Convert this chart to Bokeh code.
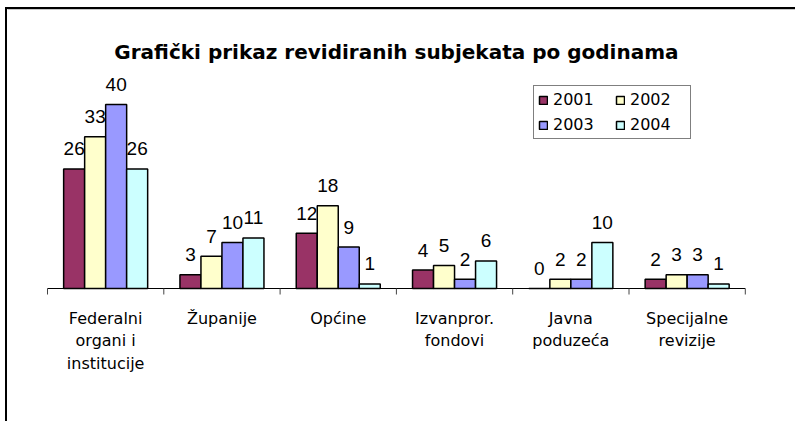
from bokeh.plotting import figure
from bokeh.models import Range1d, Legend, LegendItem, ColumnDataSource
from bokeh.core.properties import value
from bokeh.embed import file_html
from bokeh.resources import INLINE

# ---- data ----
categories = ["Federalni\norgani i\ninstitucije", "Županije", "Općine",
              "Izvanpror.\nfondovi", "Javna\npoduzeća", "Specijalne\nrevizije"]
years = ["2001", "2002", "2003", "2004"]
v2001 = [26, 3, 12, 4, 0, 2]
v2002 = [33, 7, 18, 5, 2, 3]
v2003 = [40, 10, 9, 2, 2, 3]
v2004 = [26, 11, 1, 6, 10, 1]
series = [v2001, v2002, v2003, v2004]
colors = ["#993366", "#FFFFCC", "#9999FF", "#CCFFFF"]
title_text = "Grafički prikaz revidiranih subjekata po godinama"

# ---- layout constants (pixels) ----
W, H = 795, 421
PX_CAT = 116.3     # pixels per category
PX_UNIT = 4.6      # pixels per value unit
x0 = -47 / PX_CAT
x1 = x0 + W / PX_CAT
y1 = 288 / PX_UNIT
y0 = y1 - H / PX_UNIT

p = figure(width=W, height=H, x_range=Range1d(x0, x1), y_range=Range1d(y0, y1),
           output_backend="svg", toolbar_location=None,
           x_axis_location=None, y_axis_location=None, min_border=0)
p.grid.visible = False
p.outline_line_color = None
p.background_fill_color = "white"
p.border_fill_color = "white"

n = len(categories)
centers = [i + 0.5 for i in range(n)]
bw = 0.1806
offsets = [-1.5 * bw, -0.5 * bw, 0.5 * bw, 1.5 * bw]

# chart frame (top and left edges)
fx = x0 + 5.5 / PX_CAT
fy = y1 - 7.5 / PX_UNIT
p.segment(x0=[fx - 1 / PX_CAT], y0=[fy], x1=[x1], y1=[fy], line_color="black", line_width=2)
p.segment(x0=[fx + 1.5 / PX_CAT], y0=[fy - 1.5 / PX_UNIT], x1=[x1], y1=[fy - 1.5 / PX_UNIT],
          line_color="#c8c8c8", line_width=1)
p.segment(x0=[fx], y0=[fy], x1=[fx], y1=[y0], line_color="black", line_width=2)

legend_items = []
for yr, vals, col, off in zip(years, series, colors, offsets):
    src = ColumnDataSource(dict(x=[c + off for c in centers], top=vals,
                                lbl=[str(v) for v in vals]))
    r = p.vbar(x="x", top="top", bottom=0, width=bw, source=src,
               fill_color=col, line_color="black", line_width=1.5)
    p.text(x="x", y="top", text="lbl", source=src, text_align="center",
           text_baseline="alphabetic", y_offset=-20,
           text_font=value("Liberation Sans"), text_font_size="19px",
           text_color="black")
    legend_items.append(LegendItem(label=yr, renderers=[r]))

# baseline and category boundary ticks
ticks = list(range(n + 1))
p.segment(x0=0, y0=0, x1=n, y1=0, line_color="black", line_width=1)
p.segment(x0=ticks, y0=[0] * len(ticks), x1=ticks,
          y1=[-6 / PX_UNIT] * len(ticks), line_color="#444444", line_width=1)

# category labels
p.text(x=centers, y=[0] * n, text=categories, text_align="center",
       text_baseline="top", y_offset=20, text_line_height=1.2,
       text_font=value("DejaVu Sans"), text_font_size="16px", text_color="black")

# title
p.text(x=[n / 2], y=[y1], text=[title_text], text_align="center",
       text_baseline="alphabetic", y_offset=51.5,
       text_font=value("DejaVu Sans"), text_font_size="20px",
       text_font_style="bold", text_color="black")

legend = Legend(items=legend_items, location=(533, 282), orientation="horizontal",
                nrows=2, border_line_color="black", border_line_width=1,
                background_fill_color="white", background_fill_alpha=1,
                label_text_font="DejaVu Sans", label_text_font_size="16px",
                label_text_color="black", label_width=56,
                glyph_width=10, glyph_height=10, label_standoff=5,
                spacing=6, padding=4, margin=0)
p.add_layout(legend)

open("out.html", "w").write(file_html(p, INLINE))
